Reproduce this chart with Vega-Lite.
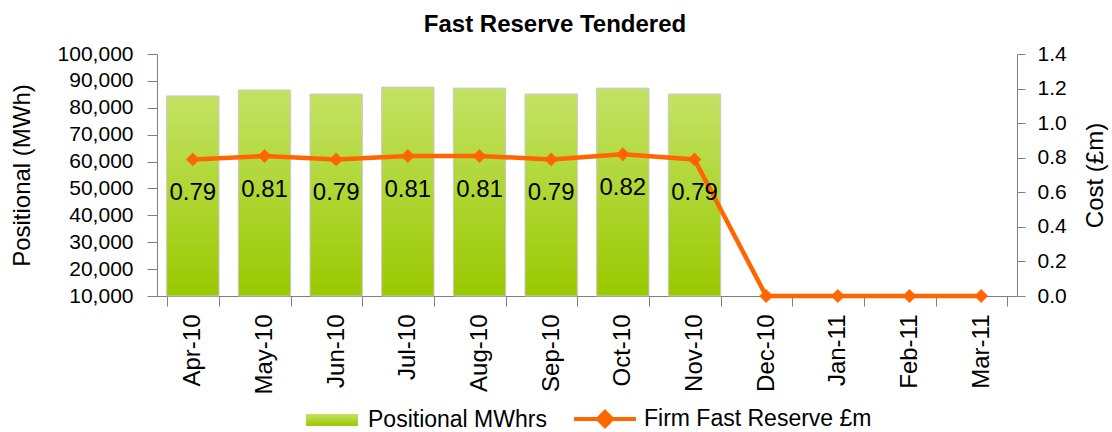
{
  "$schema": "https://vega.github.io/schema/vega-lite/v6.json",
  "width": 860,
  "height": 242,
  "autosize": "none",
  "padding": {"left": 157, "top": 54, "right": 95, "bottom": 136},
  "background": "white",
  "title": {"text": "Fast Reserve Tendered", "fontSize": 24, "fontWeight": "bold", "font": "Liberation Sans", "anchor": "middle", "offset": 6, "dx": -32, "color": "black"},
  "config": {
    "view": {"stroke": null},
    "font": "Liberation Sans",
    "axis": {"labelFont": "Liberation Sans", "titleFont": "Liberation Sans", "grid": false, "labelColor": "black", "titleColor": "black", "titleFontWeight": "normal", "domainColor": "#808080", "tickColor": "#808080", "labelFontSize": 21, "titleFontSize": 24},
    "legend": {"labelFont": "Liberation Sans", "labelFontSize": 23, "labelColor": "black", "labelLimit": 0}
  },
  "data": {"values": [
    {"Month": "Apr-10", "MWh": 84400, "Cost": 0.79},
    {"Month": "May-10", "MWh": 86600, "Cost": 0.81},
    {"Month": "Jun-10", "MWh": 85100, "Cost": 0.79},
    {"Month": "Jul-10", "MWh": 87700, "Cost": 0.81},
    {"Month": "Aug-10", "MWh": 87300, "Cost": 0.81},
    {"Month": "Sep-10", "MWh": 85100, "Cost": 0.79},
    {"Month": "Oct-10", "MWh": 87300, "Cost": 0.82},
    {"Month": "Nov-10", "MWh": 85100, "Cost": 0.79},
    {"Month": "Dec-10", "MWh": null, "Cost": 0},
    {"Month": "Jan-11", "MWh": null, "Cost": 0},
    {"Month": "Feb-11", "MWh": null, "Cost": 0},
    {"Month": "Mar-11", "MWh": null, "Cost": 0}
  ]},
  "encoding": {
    "x": {"field": "Month", "type": "ordinal", "sort": null,
      "scale": {"paddingInner": 0.27, "paddingOuter": 0.135},
      "axis": {"title": null, "labelAngle": -90, "labelFontSize": 24, "tickBand": "extent", "tickSize": 10, "labelPadding": 8, "labelAlign": "right", "labelBaseline": "middle"}}
  },
  "layer": [
    {
      "mark": {"type": "bar", "stroke": "#c8c8c8", "strokeWidth": 1,
        "fill": {"gradient": "linear", "x1": 0, "y1": 0, "x2": 0, "y2": 1, "stops": [{"offset": 0, "color": "#c4e264"}, {"offset": 1, "color": "#99c900"}]}},
      "encoding": {
        "y": {"field": "MWh", "type": "quantitative",
          "scale": {"domain": [10000, 100000], "zero": false, "nice": false},
          "axis": {"title": "Positional (MWh)", "values": [10000,20000,30000,40000,50000,60000,70000,80000,90000,100000], "format": ",d", "tickSize": 10, "labelPadding": 14, "titleX": -135, "titleY": 121, "titleAlign": "center", "titleBaseline": "middle", "titleAngle": 270}},
        "y2": {"datum": 10000},
        "opacity": {"datum": "Positional MWhrs", "type": "nominal",
          "scale": {"range": [1]},
          "legend": {"title": null, "orient": "none", "legendX": 148, "legendY": 339, "symbolType": "M-0.96,-0.22H0.96V0.22H-0.96Z", "symbolSize": 2916, "symbolStrokeWidth": 0, "symbolFillColor": "#b2d936", "symbolOpacity": 1, "labelOffset": 9}}
      }
    },
    {
      "encoding": {
        "y": {"field": "Cost", "type": "quantitative",
          "scale": {"domain": [0, 1.4], "nice": false},
          "axis": {"orient": "right", "title": "Cost (£m)", "values": [0,0.2,0.4,0.6,0.8,1.0,1.2,1.4], "format": ".1f", "tickSize": 8, "labelPadding": 12, "titleX": 78, "titleY": 121, "titleAlign": "center", "titleBaseline": "middle", "titleAngle": 270}}
      },
      "layer": [
        {
          "mark": {"type": "line", "strokeWidth": 4.5},
          "encoding": {
            "stroke": {"datum": "Firm Fast Reserve £m", "type": "nominal",
              "scale": {"range": ["#ff6600"]},
              "legend": {"title": null, "orient": "none", "legendX": 415, "legendY": 332, "symbolType": "M-1,0L1,0M0,-0.23L0.23,0L0,0.23L-0.23,0Z", "symbolSize": 3844, "symbolStrokeWidth": 4, "symbolFillColor": "#ff6600", "labelOffset": 6}}
          }
        },
        {
          "mark": {"type": "point", "shape": "diamond", "filled": true, "size": 190, "color": "#ff6600", "opacity": 1}
        },
        {
          "transform": [{"filter": "datum.Cost > 0"}],
          "mark": {"type": "text", "dy": 34, "fontSize": 24, "color": "black", "font": "Liberation Sans"},
          "encoding": {"text": {"field": "Cost", "type": "quantitative", "format": ".2f"}}
        }
      ]
    }
  ],
  "resolve": {"scale": {"y": "independent"}}
}
